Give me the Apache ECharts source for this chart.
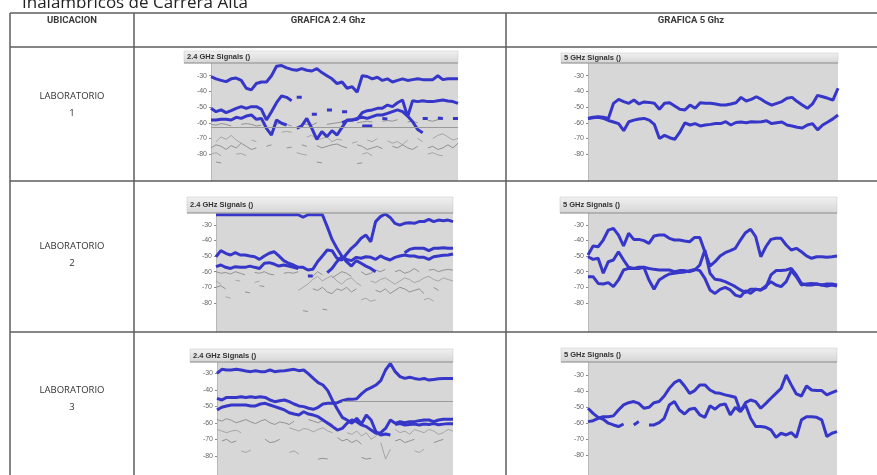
<!DOCTYPE html>
<html>
<head>
<meta charset="utf-8">
<script src="https://cdn.jsdelivr.net/npm/echarts@6/dist/echarts.min.js"></script>
<style>
html, body { margin: 0; padding: 0; background: #fff; }
#main { width: 877px; height: 475px; }
</style>
</head>
<body>
<div id="main"></div>
<script>
var _ = null;

var headLabels = ['UBICACION', 'GRAFICA 2.4 Ghz', 'GRAFICA 5 Ghz'];
var rowLabels = ['LABORATORIO', 'LABORATORIO', 'LABORATORIO'];
var rowNumbers = ['1', '2', '3'];
var title24 = '2.4 GHz Signals ()';
var title5 = '5 GHz Signals ()';
var yTicks = [-80, -70, -60, -50, -40, -30];
var samples = [1,2,3,4,5,6,7,8,9,10,11,12,13,14,15,16,17,18,19,20,21,22,23,24,25,26,27,28,29,30,31,32,33,34,35,36,37,38,39,40,41,42,43,44,45,46,47,48,49,50];

// laboratorio 1 - 2.4 GHz
var lab1g24Blue1 = [-30.6,-32,-33,-33.8,-32,-31.5,-33,-38,-39,-35,-34,-34,-30,-24,-23.5,-25,-26,-26.5,-25.5,-26.5,-27,-25.5,-28,-30,-32,-35,-34,-38,-37,-40.5,-30,-30.5,-32,-31,-33,-32,-34,-33,-32,-33,-32.5,-32,-32.5,-32.5,-32.5,-30,-32.5,-32,-32,-32];
var lab1g24Blue2 = [-50.8,-52.9,-51.8,-53.5,-52.3,-50.8,-49.7,-50.8,-49.7,-49.7,-51.4,-58.2,-52.9,-47.2,-42.9,-43.8,-45.9,_,_,_,_,_,_,_,_,_,-59.9,-58.6,-58.2,-57.8,-53.5,-52.3,-51.8,-50.8,-50.8,-48.7,-49.7,-47.2,-45.5,-56.1,-45.9,-46.5,-45.9,-46.5,-46.5,-45.9,-45.5,-46.1,-46.5,-47.6];
var lab1g24Blue3 = [-58.2,-58.2,-57.8,-57.8,-58.2,-56.5,-57.2,-55.7,-55,-57.8,-57.2,-63.5,-67.8,-58.2,-60.3,-61.4,_,-63.5,-62,-57.2,-63.5,-70.5,-65.6,-68.8,-65,-67.8,-62.9,-58.2,-58.2,-57.2,-56.5,-57.2,-56.1,-55,-55,-54,-52.9,-51.8,-52.9,-55.7,-59.3,-64.2,-66.3,_,_,_,_,_,_,_];
var lab1g24Blue4 = [_,_,_,_,_,_,_,_,_,_,_,_,_,_,_,_,_,-43.8,-43.8,_,-54.5,-54.5,_,-51.8,-51.8,_,-53,-53,_,_,-62,-62,-62,_,-57.2,-57.5,_,_,_,_,_,_,-57.2,-57.2,_,-57,-57.2,_,-57.2,-57.2];
var lab1g24Gray1 = [-61,-61.5,-60.5,-61,-62,_,-61,-60.5,-61,-62,-61.5,_,_,-61,-60,-61,-62,_,-60.5,-61,-61.5,-60,_,-61,-60.5,-60,-59.5,-60,_,-60,-59.5,-59,-59.5,_,-59,-58.5,-59,-58,_,-59.5,-59,-60,_,-58.5,-59,-58,-57.5,_,-58,-57.5];
var lab1g24Gray2 = [_,-72,-69,-70.5,-68,-71,-73,_,-71,-72,_,_,_,_,-66,-65.5,-66,_,_,-69,-68,-71,-70,-69,-72,-70.5,-71,_,-73,-72,_,-71,-72,-70,_,-71.5,-73,-72,-74,-71,_,-70,-72,_,-70,-68,-67,-69,-71,-70];
var lab1g24Gray3 = [-76,-74,-75,-77,-74.5,-76,-73,-75,-77,-76,_,-75,-74,_,_,-76,-75.5,_,-74,-75,_,-74.5,-76,-75,-74,-73.5,-75,-76,_,-74,-75,-77,-76,-75,-76.5,_,-75,-76,-74,-76,-77,-75,_,-76,-75,-77,-76,-74,-76,-73];
var lab1g24Gray4 = [-80,-79,-81,_,_,-80,-79.5,-81,_,_,_,_,_,_,_,_,_,-79,-80,-80.5,_,_,_,_,_,_,_,_,_,_,-80,-79,-81,_,_,_,_,_,_,_,_,_,_,-80,-79,-80.5,-81,_,_,_];
var lab1g24Gray5 = [_,-85,-85.5,_,_,_,_,_,_,_,_,_,_,_,_,_,_,_,_,_,_,-85,-85.5,_,_,_,_,_,_,-86,-85.5,_,_,_,_,_,_,_,_,_,_,_,_,_,_,_,_,_,_,_];

// laboratorio 1 - 5 GHz
var lab1g5Blue1 = [-57.2,-56.5,-56.1,-56.5,-57.2,-47.6,-45.1,-46.5,-47.6,-45.5,-48,-46.7,-47,-47.6,-51.4,-47.6,-47.2,-49.3,-51.4,-51.8,-48.7,-50.8,-47.2,-47.6,-47.6,-48,-48.7,-48.7,-48,-47.2,-43.8,-46.1,-45.1,-43.4,-45.1,-47.2,-48.7,-47.6,-46.5,-44.4,-43.8,-46.5,-48.7,-50.8,-48,-42.5,-43.4,-44.4,-45.5,-38];
var lab1g5Blue2 = [-57.2,-56.8,-56.5,-57.2,-58.5,-59.5,-60.5,-65,-59.3,-58.3,-57.6,-57.2,-58.3,-61,-70,-68,-69.5,-70.5,-66,-60,-61.4,-60.5,-62,-61.4,-61,-60.5,-60.5,-59.3,-61.4,-59.8,-59.5,-60,-59.3,-59.5,-59.3,-58.7,-60.5,-60,-59.5,-61.4,-62,-62.8,-63.3,-61.4,-60.5,-64.5,-61.4,-59.5,-57.5,-55];

// laboratorio 2 - 2.4 GHz
var lab2g24Blue1 = [-23.5,-23.5,-23.5,-23.5,-23.5,-23.5,-23.5,-23.5,-23.5,-23.5,-23.5,-23.5,-23.5,-23.5,-23.5,-23.5,-23.5,-23.5,-25.1,-23.5,-23.5,-23.5,-23.5,-31.1,-39.3,-45,-49.9,-53.6,-56.4,-52.9,-54.6,-56.4,-57.9,-60,_,_,_,_,_,_,_,_,_,_,_,_,_,_,_,_];
var lab2g24Blue2 = [-50.4,-46.5,-48.2,-49.3,-47.8,-49.3,-49.3,-49.9,-50.4,-52.1,-49.9,-48.2,-47.2,-49.9,-52.9,-54.6,-55.7,-57.2,-57.2,-58.9,-58.5,-53.6,-49.9,-46.1,-46.5,-51.4,-52.5,-48.7,-45,-42.3,-38.6,-36.5,-40.8,-27.9,-24.7,-23,-25.2,-29,-30.1,-29,-28.6,-29,-27.9,-27.9,-26.4,-27.9,-26.9,-27.3,-26.9,-27.9];
var lab2g24Blue3 = [-56.8,-55.7,-57.2,-57.9,-56.8,-57.2,-57.2,-56.4,-57.2,-57.9,-54.6,-54.2,-55.1,-56.4,-55.7,-56.4,-57.2,-57.9,_,-62.8,-62.8,_,_,-60.6,-57.9,-53.6,-50.4,-52.1,-52.9,-50.8,-51.4,-50.4,-50.8,-52.1,-49.9,-51.4,-52.5,-50.8,-49.9,-49.3,-49.9,-49.9,-50.8,-50.8,-52.1,-50.4,-49.9,-49.5,-49.3,-48.7];
var lab2g24Blue4 = [_,_,_,_,_,_,_,_,_,_,_,_,_,_,_,_,_,_,_,_,_,_,_,_,_,_,_,_,_,_,_,_,_,_,_,_,_,_,_,-47.8,-45.7,-45,-45,-45,-46.5,-45,-45,-44.6,-45,-45];
var lab2g24Gray1 = [-60,-61,-60.5,-61.5,-60,-61,-62,_,-60.5,-61,-60,-61.5,-62,_,-61,-60.5,-61,-60,_,-62,-63,-60,-62,_,-64,-62,-60,-61,-63,_,-60,-62,-61,-59,-60,-58.5,_,-60,-59,-61,-60,-58,-60,_,-59,-58.5,-60,-59,-58.5,-59];
var lab2g24Gray2 = [-66,-68,_,_,-65.5,-66,_,_,-67,-66,_,_,_,_,_,_,_,-72,-70,-68,-65,-63,-66,-64,-62.5,-66,-68,-65,-64,-67,-69,_,-66,-67,-65,-64,-66,-68,-66,-64,-65,-67,-66,-64,-63,-65,-66,-64,-65,-66];
var lab2g24Gray3 = [-70,-69,-71,_,_,_,-73,-73.5,_,-69,-69.5,_,_,_,_,_,_,_,_,_,-71,-72,-70,-73,-74,-71,-72,-70,-73,-71,_,_,_,-72,-73,-71,-74,-72,-70,-71,-73,-72,-71,-74,_,-70,-72,_,_,_];
var lab2g24Gray4 = [_,_,-76,-77,_,_,_,_,_,_,_,_,_,_,_,_,_,_,_,_,_,_,_,_,_,_,_,_,_,_,-78,-77,-79,-78,_,_,_,_,_,_,_,_,_,-78,-77,-79,_,_,_,_];
var lab2g24Gray5 = [_,_,_,_,_,_,_,_,_,_,_,_,_,_,_,_,_,_,-85,-85.5,_,_,-84,-84.5,_,_,_,_,_,_,_,_,_,_,_,_,_,_,_,_,_,_,_,_,_,_,_,_,_,_];

// laboratorio 2 - 5 GHz
var lab2g5Blue1 = [-49.3,-43.5,-44,-39.7,-33.3,-32.2,-36.5,-43.5,-35.4,-39.3,-39.3,-40.1,-41.8,-37.1,-36.5,-36.5,-38.6,-39.7,-39.7,-40.3,-40.8,-38,-38,-47.2,-56.4,-53.6,-49.9,-47.8,-46.5,-45,-39.7,-35,-32.8,-37.6,-50.4,-44,-39.3,-38.6,-38.6,-42.9,-46.1,-45,-47.2,-49.9,-51.4,-50.4,-50.4,-50.8,-50.4,-49.9];
var lab2g5Blue2 = [-50.4,-52.1,-51.4,-61,-53.6,-52.5,-47.2,-52.5,-57.2,-57.9,-57.2,-57.2,-57.9,-58.5,-58.9,-58.9,-58.9,-60,-59.3,-59.3,-60,-58.9,-55.7,-46.1,-61,-64.9,-65.3,-66.4,-67.9,-69.6,-71.7,-73.4,-71.3,-71.3,-71.7,-70,-62.1,-59.3,-59.3,-58.9,-57.9,-62.1,-67.5,-68.5,-68.5,-67.9,-68.5,-67.9,-67.9,-68.5];
var lab2g5Blue3 = [-63.2,-63.2,-67.5,-67.9,-67,-69.6,-65.3,-58.9,-57.9,-57.9,-57.9,-57.2,-65.3,-71.3,-65.3,-63.2,-61.5,-61,-60.6,-60.2,-59.3,-58.5,-59.3,-64.3,-71.7,-73.9,-71.3,-70,-71.7,-75,-76,-72.2,-73.9,-71.3,-71.7,-69.2,-66.4,-68.5,-69.6,-66.4,-59.3,-63.2,-68.5,-67.9,-67.5,-67.9,-68.5,-69.2,-68.5,-69.2];

// laboratorio 3 - 2.4 GHz
var lab3g24Blue1 = [-30,-27.6,-28,-28,-27.6,-28,-28.6,-29,-28.4,-29,-29,-28,-29,-28.6,-28.4,-28,-27.6,-28.4,-28,-30.4,-33.1,-35.7,-37.1,-40.5,-46.6,-51.8,-56.7,-58.3,-60.3,-57.3,-60.7,-55.3,-58.3,-65.4,-67.4,-66.8,-67.4,_,_,_,_,_,_,_,_,_,_,_,_,_];
var lab3g24Blue2 = [-45.2,-46.2,-44.6,-44.6,-44.6,-44.2,-44.6,-44.2,-44.6,-44.2,-44.6,-46.2,-47.2,-46.6,-46.2,-47.2,-48.6,-49.8,-50.2,-51.2,-51.8,-50.6,-48.6,-48.2,-48.2,-47.8,-46.6,-45.8,-45.8,-45.4,-42.5,-40.1,-38.7,-37.1,-34.5,-28,-24,-29,-32,-33.1,-32.4,-33.1,-33.7,-33.1,-34.1,-33.7,-33.3,-33.1,-33.1,-33.1];
var lab3g24Blue3 = [-52.2,-50.6,-49.8,-49.2,-49.2,-49.2,-49.2,-49.8,-49.8,-48.6,-48.2,-49.2,-50.2,-51.2,-52.2,-53.9,-54.7,-55.3,-53.3,-54.7,-55.3,-56.3,-58.3,-60.3,-62.3,-64.4,-63.4,-60.3,-58.3,-59.3,-61.3,-62.3,-64.4,-66.4,-66,-63.4,-58.3,-60.3,-59.3,-59.9,-59.3,-59.3,-58.7,-58.3,-58.3,-59.3,-58.3,-57.9,-57.9,-57.9];
var lab3g24Blue4 = [_,_,_,_,_,_,_,_,_,_,_,_,_,_,_,_,_,_,_,_,_,_,_,_,_,_,_,_,_,_,_,_,_,_,_,_,_,-61,-60.5,-61.3,-61,-60.8,-61.3,-60.7,-61,-60.5,-61.2,-60.8,-60.5,-60.5];
var lab3g24Gray1 = [-58,-59,-57.5,-58.5,-60,-59,-58,-59.5,-60.5,-59,-58,-60,-61,-59.5,-60,-61,-59,_,_,-58,-59,-60,-58.5,-59.5,-61,_,_,_,_,_,_,_,_,_,_,_,_,_,_,_,_,_,_,_,_,_,_,_,_,_];
var lab3g24Gray2 = [-64,-65,-66,-65,-64.5,-66,_,_,_,_,_,_,_,_,_,-63,-64,-65,-63.5,-64,-65.5,-64,-63,-65,-66,_,_,-66,-67,-65,-68,-66,-70,-68,-66,_,_,-64,-66,-65,-67,-64,-65,-66,-64,-65,-67,-66,-64,-65];
var lab3g24Gray3 = [_,-71,-70,-72,-71,_,_,_,_,_,-70,-72,-71.5,-70,_,_,_,_,_,_,_,_,_,_,_,-69,-71,-70,-72,-70.5,-73,_,_,_,_,_,_,-71,-70,-72,-71,-70,_,_,_,-72,-71,-70,_,_];
var lab3g24Gray4 = [_,_,_,_,_,-77,-78,-76.5,_,_,_,_,_,_,_,-78,-77,-79,_,_,_,_,_,_,_,_,_,_,_,_,_,_,_,_,-72,-82,-76,_,_,_,_,-77,-78,-76,_,_,_,_,_,_];
var lab3g24Gray5 = [_,_,_,_,_,_,_,_,_,_,_,_,_,_,_,_,_,_,_,_,_,-82,-81.5,-82,_,_,_,_,_,_,-81,-82,-81.5,_,_,_,_,_,_,_,_,_,_,_,_,_,_,_,_,_];

// laboratorio 3 - 5 GHz
var lab3g5Blue1 = [-50.6,-53.8,-56.3,-57.5,-60,-61.1,-62.1,-60.5,_,-61.1,-59,_,-61.1,-61.1,-59.6,-56.9,-48.5,-46.4,-51.7,-54.2,-51.2,-50.6,-54.8,-56.3,-49.1,-51.2,-48.5,-47.9,-54.8,-50,-52.7,-48.5,-56.9,-62.1,-62.1,-62.6,-64.2,-68.9,-66.3,-67.4,-65.9,-68.9,-57.9,-55.9,-55.9,-56.3,-57.9,-68.4,-66.3,-65.3];
var lab3g5Blue2 = [-59,-58.4,-56.9,-55.9,-55.9,-55.4,-51.7,-48.5,-47.1,-46.4,-47.5,-50.6,-50,-47.1,-46.4,-42.9,-38.1,-34.5,-32.8,-36.6,-41.2,-39.5,-35.9,-35.9,-39.1,-40.8,-41.2,-42.2,-42.9,-43.7,-52.7,-47.1,-45.4,-46.4,-50.6,-47.5,-44.3,-41.2,-38.1,-29.7,-35.9,-41.6,-42.9,-36.6,-39.1,-39.5,-39.5,-42.2,-40.8,-39.5];

// layout of the six pasted screenshots
var panels = [
    { title: title24, bar: [184, 51, 458, 63], plot: [211, 63, 458, 181], y30: 75.7, px10: 15.7,
      blue: [lab1g24Blue1, lab1g24Blue2, lab1g24Blue3, lab1g24Blue4],
      gray: [lab1g24Gray1, lab1g24Gray2, lab1g24Gray3, lab1g24Gray4, lab1g24Gray5],
      mark: [{ yAxis: -62.9 }] },
    { title: title5, bar: [561, 53, 838, 63], plot: [588, 63, 838, 181], y30: 75.7, px10: 15.7,
      blue: [lab1g5Blue1, lab1g5Blue2], gray: [] },
    { title: title24, bar: [187, 197, 453, 213], plot: [216, 213, 453, 332], y30: 224.9, px10: 15.6,
      blue: [lab2g24Blue1, lab2g24Blue2, lab2g24Blue3, lab2g24Blue4],
      gray: [lab2g24Gray1, lab2g24Gray2, lab2g24Gray3, lab2g24Gray4, lab2g24Gray5] },
    { title: title5, bar: [560, 197, 837, 213], plot: [588, 213, 837, 332], y30: 224.9, px10: 15.6,
      blue: [lab2g5Blue1, lab2g5Blue2, lab2g5Blue3], gray: [] },
    { title: title24, bar: [190, 349, 453, 362], plot: [217, 362, 453, 475], y30: 373.3, px10: 16.5,
      blue: [lab3g24Blue1, lab3g24Blue2, lab3g24Blue3, lab3g24Blue4],
      gray: [lab3g24Gray1, lab3g24Gray2, lab3g24Gray3, lab3g24Gray4, lab3g24Gray5],
      mark: [[{ coord: [26, -47.2] }, { coord: [49, -47.2] }]] },
    { title: title5, bar: [561, 348, 837, 362], plot: [588, 362, 837, 475], y30: 375.5, px10: 15.9,
      blue: [lab3g5Blue1, lab3g5Blue2], gray: [] }
];

var grids = [], xAxes = [], yAxes = [], series = [], graphics = [];

panels.forEach(function (p, k) {
    var left = p.plot[0], top = p.plot[1], right = p.plot[2], bottom = p.plot[3];
    grids.push({
        left: left, top: top, width: right - left, height: bottom - top,
        show: true, backgroundColor: '#d7d7d7', borderWidth: 0
    });
    xAxes.push({ type: 'category', gridIndex: k, data: samples, boundaryGap: false, show: false });
    yAxes.push({
        type: 'value', gridIndex: k,
        max: -30 + (p.y30 - top) / p.px10 * 10,
        min: -30 - (bottom - p.y30) / p.px10 * 10,
        axisLine: { show: true, lineStyle: { color: '#b8b8b8', width: 1 } },
        axisTick: { show: true, customValues: yTicks, length: 2, lineStyle: { color: '#8a8a8a' } },
        axisLabel: { customValues: yTicks, fontSize: 7, color: '#666', margin: 4, fontFamily: 'Liberation Sans' },
        splitLine: { show: false }
    });
    p.gray.forEach(function (d, j) {
        var s = {
            type: 'line', xAxisIndex: k, yAxisIndex: k, data: d, symbol: 'none', silent: true,
            lineStyle: { color: j % 2 ? '#a6a6a6' : '#929292', width: 1 }, z: 2
        };
        if (j === 0 && p.mark) {
            s.markLine = { silent: true, symbol: 'none', label: { show: false },
                lineStyle: { color: '#9b9b9b', width: 1, type: 'solid' }, data: p.mark };
        }
        series.push(s);
    });
    p.blue.forEach(function (d) {
        series.push({
            type: 'line', xAxisIndex: k, yAxisIndex: k, data: d, symbol: 'none', silent: true,
            lineStyle: { color: '#3636c8', width: 3 }, z: 3
        });
    });

    // title bar of the screenshot
    graphics.push({
        type: 'rect', z: 10,
        shape: { x: p.bar[0], y: p.bar[1], width: p.bar[2] - p.bar[0], height: p.bar[3] - p.bar[1] },
        style: {
            fill: { type: 'linear', x: 0, y: 0, x2: 0, y2: 1,
                colorStops: [{ offset: 0, color: '#f1f1f1' }, { offset: 1, color: '#d5d5d5' }] },
            stroke: '#c4c4c4', lineWidth: 0.5
        }
    });
    graphics.push({
        type: 'line', z: 11,
        shape: { x1: p.bar[0], y1: p.bar[3], x2: p.bar[2], y2: p.bar[3] },
        style: { stroke: '#8f8f8f', lineWidth: 1 }
    });
    graphics.push({
        type: 'text', z: 12,
        style: { text: p.title, x: p.bar[0] + 3, y: (p.bar[1] + p.bar[3]) / 2, textVerticalAlign: 'middle',
            font: 'bold 7.5px "Liberation Sans"', fill: '#333' }
    });
});

// table frame
var lineColor = '#5e5e5e';
var hLines = [[10, 13, 877], [10, 47, 877], [10, 181, 877], [10, 332, 877]];
var vLines = [10, 134, 506];
hLines.forEach(function (h) {
    graphics.push({ type: 'line', z: 20, shape: { x1: h[0], y1: h[1], x2: h[2], y2: h[1] },
        style: { stroke: lineColor, lineWidth: 1.5 } });
});
vLines.forEach(function (x) {
    graphics.push({ type: 'line', z: 20, shape: { x1: x, y1: 13, x2: x, y2: 475 },
        style: { stroke: lineColor, lineWidth: 1.5 } });
});

// page text above the table (cut off at the top)
graphics.push({ type: 'text', z: 20,
    style: { text: 'Inalámbricos de Carrera Alta', x: 22, y: 12, textVerticalAlign: 'bottom',
        font: '17px "Open Sans"', fill: '#222' } });

// header row
var headX = [72, 328, 691];
headLabels.forEach(function (t, i) {
    graphics.push({ type: 'text', z: 20,
        style: { text: t, x: headX[i], y: 21, textAlign: 'center', textVerticalAlign: 'middle',
            font: 'bold 9.5px Roboto', fill: '#3a3a3a' } });
});

// row labels
var rowY = [96, 246, 390];
rowLabels.forEach(function (t, i) {
    graphics.push({ type: 'text', z: 20,
        style: { text: t, x: 72, y: rowY[i], textAlign: 'center', textVerticalAlign: 'middle',
            font: '9.5px "Open Sans"', fill: '#333' } });
    graphics.push({ type: 'text', z: 20,
        style: { text: rowNumbers[i], x: 72, y: rowY[i] + 17, textAlign: 'center', textVerticalAlign: 'middle',
            font: '9.5px "Open Sans"', fill: '#333' } });
});

var chart = echarts.init(document.getElementById('main'));
chart.setOption({
    animation: false,
    backgroundColor: '#fff',
    grid: grids,
    xAxis: xAxes,
    yAxis: yAxes,
    series: series,
    graphic: graphics
});
</script>
</body>
</html>
